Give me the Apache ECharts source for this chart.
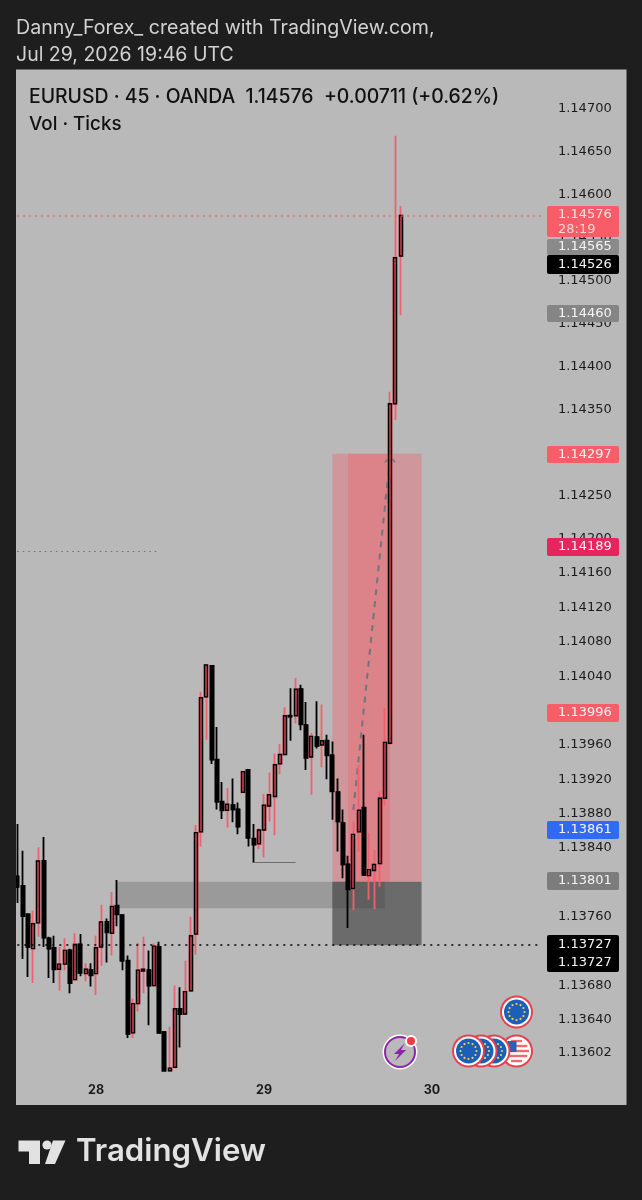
<!DOCTYPE html>
<html><head><meta charset="utf-8">
<style>html,body{margin:0;padding:0;background:#1e1e1e}#c{width:642px;height:1200px}</style>
<script src="https://cdn.jsdelivr.net/npm/echarts@6/dist/echarts.min.js"></script>
</head><body><div id="c"></div>
<script>
const opens=[1.13807,1.13796,1.13763,1.13723,1.13753,1.13825,1.13735,1.13724,1.13699,1.13705,1.13721,1.13687,1.13728,1.13694,1.13698,1.13694,1.13725,1.13754,1.13741,1.13773,1.13762,1.13709,1.13625,1.13659,1.13697,1.13698,1.13680,1.13725,1.13626,1.13581,1.13585,1.13653,1.13647,1.13674,1.13740,1.13859,1.14016,1.14052,1.13943,1.13894,1.13884,1.13890,1.13885,1.13905,1.13931,1.13851,1.13845,1.13861,1.13889,1.13900,1.13938,1.13949,1.13994,1.13994,1.14025,1.13983,1.13946,1.13969,1.13960,1.13965,1.13948,1.13905,1.13869,1.13821,1.13793,1.13859,1.13887,1.13808,1.13814,1.13822,1.13898,1.13962,1.14357,1.14529];
const closes=[1.13795,1.13761,1.13725,1.13752,1.13825,1.13736,1.13723,1.13699,1.13705,1.13721,1.13683,1.13728,1.13695,1.13699,1.13692,1.13724,1.13754,1.13742,1.13772,1.13763,1.13709,1.13624,1.13659,1.13698,1.13699,1.13680,1.13726,1.13625,1.13581,1.13584,1.13653,1.13647,1.13673,1.13738,1.13858,1.14015,1.14053,1.13943,1.13894,1.13884,1.13891,1.13885,1.13865,1.13929,1.13852,1.13844,1.13861,1.13890,1.13902,1.13937,1.13949,1.13994,1.13993,1.14025,1.13984,1.13945,1.13970,1.13959,1.13965,1.13948,1.13906,1.13871,1.13821,1.13792,1.13856,1.13884,1.13809,1.13815,1.13821,1.13898,1.13963,1.14357,1.14527,1.14576];
const lows=[1.13776,1.13711,1.13690,1.13683,1.13737,1.13725,1.13689,1.13683,1.13674,1.13698,1.13671,1.13686,1.13691,1.13685,1.13679,1.13669,1.13703,1.13707,1.13715,1.13749,1.13698,1.13619,1.13619,1.13650,1.13671,1.13634,1.13680,1.13625,1.13581,1.13581,1.13584,1.13608,1.13646,1.13673,1.13716,1.13842,1.13966,1.13938,1.13885,1.13874,1.13864,1.13870,1.13856,1.13904,1.13842,1.13823,1.13839,1.13829,1.13871,1.13855,1.13926,1.13948,1.13965,1.13985,1.13977,1.13931,1.13902,1.13956,1.13934,1.13920,1.13873,1.13836,1.13805,1.13747,1.13768,1.13836,1.13809,1.13780,1.13769,1.13795,1.13890,1.13960,1.14338,1.14460];
const highs=[1.13868,1.13837,1.13763,1.13767,1.13841,1.13853,1.13737,1.13738,1.13725,1.13735,1.13723,1.13741,1.13740,1.13706,1.13706,1.13738,1.13774,1.13758,1.13789,1.13803,1.13763,1.13715,1.13665,1.13730,1.13737,1.13721,1.13729,1.13731,1.13626,1.13632,1.13680,1.13678,1.13709,1.13760,1.13867,1.14022,1.14053,1.14053,1.13981,1.13917,1.13910,1.13921,1.13893,1.13930,1.13931,1.13868,1.13863,1.13903,1.13928,1.13950,1.13961,1.14004,1.14026,1.14038,1.14030,1.14010,1.13974,1.14011,1.14007,1.13972,1.13964,1.13921,1.13885,1.13831,1.13871,1.13937,1.13972,1.13858,1.13838,1.13906,1.14003,1.14371,1.14669,1.14587];
const dayLabels={15:'28',47:'29',79:'30'};
const priceTicks=[1.14700,1.14650,1.14600,1.14550,1.14500,1.14450,1.14400,1.14350,1.14300,1.14250,1.14200,1.14160,1.14120,1.14080,1.14040,1.14000,1.13960,1.13920,1.13880,1.13840,1.13800,1.13760,1.13720,1.13680,1.13640,1.13602];
const priceLast=1.14576, priceEntry=1.13727, priceGrey=1.141857, priceLow=1.138238;
const zoneRedTop=1.14299, zoneMid=1.13801, zoneBandBottom=1.13770;
const arrowFrom=1.138843, arrowTo=1.14295, chevronBase=1.14289;
const tagTexts=['1.14576','1.14565','1.14526','1.14460','1.14297','1.14189','1.13996','1.13861','1.13801','1.13727','1.13727'];

const BANDS=101;
const categories=Array.from({length:BANDS},(_,i)=>dayLabels[i]||'');
const ohlc=opens.map((o,i)=>[o,closes[i],lows[i],highs[i]]);
const bodies=opens.map((o,i)=>[o,closes[i],Math.min(o,closes[i]),Math.max(o,closes[i])]);

const FONT='Inter, "Noto Sans", sans-serif';
const AXFONT='"DejaVu Sans", sans-serif';
const RED='#f0606e', BLK='#000000';
const yMin=1.1354109,yMax=1.1474596;

const tagBoxes=[[206,31,'#f85c66'],[239,16,'#8a8a8a'],[255,19,'#000'],[305,17,'#858585'],[446,17,'#f75e67'],[538,18,'#e8245f'],[704,18,'#f75e67'],[821,18,'#2f6bf2'],[872,18,'#7c7c7c'],[935,37,'#000']];
const tagTextY=[215,247,265,313.5,454.5,547,713,830,881,944.5,962.5];

const g=[];
g.push({type:'rect',z:0,shape:{x:16,y:69.5,width:610.5,height:1035.5},style:{fill:'#b9b9b9'}});
g.push({type:'rect',z:50,shape:{x:0,y:69,width:16,height:1037},style:{fill:'#1e1e1e'}});
function text(x,y,t,size,fill,weight,fam){g.push({type:'text',z:60,x,y,style:{text:t,fill,font:(weight||400)+' '+size+'px '+(fam||FONT),textVerticalAlign:'middle',textBaseline:'middle'}});}
text(16,28,'Danny_Forex_ created with TradingView.com,',19.6,'#d2d2d2',400);
text(16,55,'Jul 29, 2026 19:46 UTC',19.5,'#d2d2d2',400);
text(29,97,'EURUSD · 45 · OANDA  1.14576  +0.00711 (+0.62%)',19.4,'#111',500);
text(29,124,'Vol · Ticks',18.8,'#111',500);
tagBoxes.forEach(b=>g.push({type:'rect',z:55,shape:{x:547,y:b[0],width:72,height:b[1],r:2},style:{fill:b[2]}}));
tagTexts.forEach((t,i)=>text(558,tagTextY[i],t,13,i==0?'#ffe3e3':'#f4f4f4',400,AXFONT));
text(558,230,'28:19',13,'#ffd5d5',400,AXFONT);

const LOGO='#e2e2e2';
g.push({type:'polygon',z:60,shape:{points:[[18.5,1140.5],[40,1140.5],[40,1164],[29,1164],[29,1151.5],[18.5,1151.5]]},style:{fill:LOGO}});
g.push({type:'circle',z:60,shape:{cx:47,cy:1145,r:4.6},style:{fill:LOGO}});
g.push({type:'polygon',z:60,shape:{points:[[53,1140.5],[65.5,1140.5],[55,1164],[45,1164]]},style:{fill:LOGO}});
text(76,1152,'TradingView',31.2,LOGO,600);

function euBadge(cx,cy){
  g.push({type:'circle',z:40,shape:{cx,cy,r:16.5},style:{fill:'#e8404c'}});
  g.push({type:'circle',z:40,shape:{cx,cy,r:14.5},style:{fill:'#fff'}});
  g.push({type:'circle',z:40,shape:{cx,cy,r:12.5},style:{fill:'#1b5fb8'}});
  for(let k=0;k<12;k++){const a=k*Math.PI/6;g.push({type:'circle',z:40,shape:{cx:cx+8*Math.cos(a),cy:cy+8*Math.sin(a),r:1.1},style:{fill:'#f3d34a'}});}
}
function usBadge(cx,cy){
  g.push({type:'circle',z:40,shape:{cx,cy,r:16.5},style:{fill:'#e8404c'}});
  g.push({type:'circle',z:40,shape:{cx,cy,r:14.5},style:{fill:'#fff'}});
  const r=12.5;
  for(let d=-10;d<=10;d+=5){const w=Math.sqrt(r*r-Math.min(r*r-1,(Math.abs(d)+1.2)*(Math.abs(d)+1.2)));
    g.push({type:'rect',z:40,shape:{x:cx-w,y:cy+d-1.2,width:2*w,height:2.4},style:{fill:'#ef6a70'}});}
  g.push({type:'rect',z:40,shape:{x:cx-9,y:cy-10,width:9,height:11},style:{fill:'#2a62b0'}});
}
usBadge(516.5,1051);euBadge(494,1051);euBadge(481,1051);euBadge(468.5,1051);euBadge(516.5,1012);
g.push({type:'circle',z:40,shape:{cx:400,cy:1052,r:17.5},style:{fill:'#fff'}});
g.push({type:'circle',z:40,shape:{cx:400,cy:1052,r:15},style:{fill:'#b9b9b9',stroke:'#8e24aa',lineWidth:2}});
g.push({type:'polygon',z:40,shape:{points:[[405,1043],[394,1054],[399,1054],[395,1061],[406,1050],[401,1050]]},style:{fill:'#8e24aa'}});
g.push({type:'circle',z:40,shape:{cx:411,cy:1041,r:6},style:{fill:'#fff'}});
g.push({type:'circle',z:40,shape:{cx:411,cy:1041,r:4},style:{fill:'#ee3b45'}});

const chart=echarts.init(document.getElementById('c'),null,{renderer:'canvas'});
chart.setOption({
  animation:false,backgroundColor:'#1e1e1e',
  graphic:{elements:g},
  grid:{left:14.68,top:69.5,width:5.25*BANDS,height:1035.5},
  xAxis:{type:'category',data:categories,boundaryGap:true,axisLine:{show:false},axisTick:{show:false},splitLine:{show:false},
    axisLabel:{show:true,interval:0,inside:true,margin:8,color:'#1a1a1a',fontFamily:FONT,fontWeight:700,fontSize:12.5}},
  yAxis:{type:'value',position:'right',min:yMin,max:yMax,scale:true,axisLine:{show:false},axisTick:{show:false},splitLine:{show:false},
    axisLabel:{customValues:priceTicks,margin:13,align:'left',color:'#1c1c1c',fontFamily:AXFONT,fontSize:13,formatter:v=>v.toFixed(5)}},
  series:[
    {name:'zones',type:'line',z:1,silent:true,data:[],
      markArea:{silent:true,data:[
        [{coord:[60,zoneRedTop],itemStyle:{color:'rgba(240,100,110,0.4)'}},{coord:[77,zoneMid]}],
        [{coord:[63,zoneRedTop],itemStyle:{color:'rgba(240,100,110,0.4)'}},{coord:[71,zoneMid]}],
        [{coord:[19,zoneMid],itemStyle:{color:'rgba(60,60,60,0.24)'}},{coord:[70,zoneBandBottom]}],
        [{coord:[60,zoneMid],itemStyle:{color:'rgba(60,60,60,0.62)'}},{coord:[77,priceEntry]}]
      ]},
      markLine:{silent:true,symbol:'none',label:{show:false},data:[
        [{coord:[0,priceLast],lineStyle:{color:'#ee5c68',type:[1.5,4.5],width:1.5}},{coord:[BANDS-1,priceLast]}],
        [{coord:[0,priceEntry],lineStyle:{color:'#000',type:[2,5],width:1.6}},{coord:[BANDS-1,priceEntry]}],
        [{coord:[0,priceGrey],lineStyle:{color:'#6e6e6e',type:[1.5,4],width:1.1}},{coord:[27,priceGrey]}],
        [{coord:[45,priceLow],lineStyle:{color:'#6e6e6e',type:'solid',width:1.2}},{coord:[53,priceLow]}]
      ]}},
    {name:'arrow',type:'line',z:2,silent:true,showSymbol:false,symbol:'none',data:[[64,arrowFrom],[71,arrowTo]],lineStyle:{color:'#72757c',type:[6,6],width:2}},
    {name:'arrowHead',type:'line',z:2,silent:true,showSymbol:false,symbol:'none',data:[[70,chevronBase],[71,arrowTo],[72,chevronBase]],lineStyle:{color:'#72757c',width:1.5}},
    {name:'EURUSD wicks',type:'candlestick',z:3,silent:true,barWidth:3.6,data:ohlc,
      itemStyle:{color:RED,color0:BLK,borderColor:RED,borderColor0:BLK,borderWidth:1.8}},
    {name:'EURUSD bodies',type:'candlestick',z:4,silent:true,barWidth:3.6,data:bodies,
      itemStyle:{color:'#c94250',color0:BLK,borderColor:BLK,borderColor0:BLK,borderWidth:1.4}}
  ]
});
</script></body></html>
